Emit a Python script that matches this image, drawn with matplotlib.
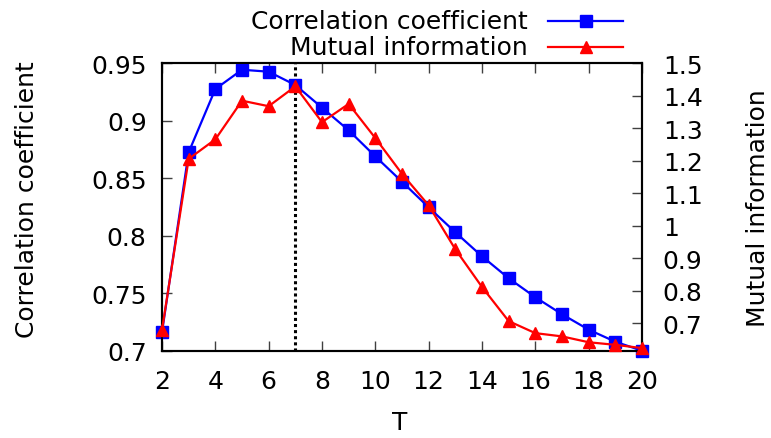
import matplotlib
matplotlib.use('Agg')
import matplotlib.pyplot as plt
from matplotlib.lines import Line2D

plt.rcParams['font.family'] = ['DejaVu Sans']

T = list(range(2, 21))
corr = [0.716, 0.8726, 0.9276, 0.9444, 0.9427, 0.9311, 0.9114, 0.8917, 0.869, 0.847,
        0.8247, 0.803, 0.7821, 0.763, 0.7465, 0.7317, 0.7183, 0.7078, 0.700]
mi = [0.68, 1.206, 1.266, 1.385, 1.368, 1.429, 1.319, 1.375, 1.27, 1.16,
      1.063, 0.928, 0.812, 0.707, 0.670, 0.660, 0.642, 0.634, 0.624]
best_T = 7

fs = 18
fig = plt.figure(figsize=(7.71, 4.39), dpi=100)
ax1 = fig.add_axes([162 / 771, 1 - 351.7 / 439, 480 / 771, 287.4 / 439])
ax2 = ax1.twinx()

ax1.plot(T, corr, color='#0000ff', lw=1.6, marker='s', ms=8, zorder=3, clip_on=False)
ax2.plot(T, mi, color='#ff0000', lw=1.6, marker='^', ms=9, zorder=3, clip_on=False)
ax1.axvline(best_T, color='black', lw=2.2, ls=(0, (1, 1)), zorder=1)

ax1.set_xlim(2, 20)
ax1.set_ylim(0.7, 0.95)
ax2.set_ylim(0.616, 1.5)
ax1.set_xticks(range(2, 21, 2))
ax1.set_yticks([0.7, 0.75, 0.8, 0.85, 0.9, 0.95])
ax1.set_yticklabels(['0.7', '0.75', '0.8', '0.85', '0.9', '0.95'])
ax2.set_yticks([0.7, 0.8, 0.9, 1.0, 1.1, 1.2, 1.3, 1.4, 1.5])
ax2.set_yticklabels(['0.7', '0.8', '0.9', '1', '1.1', '1.2', '1.3', '1.4', '1.5'])

ax1.tick_params(axis='x', direction='in', length=7, width=1, color='#404040',
                labelsize=fs, pad=13, top=True)
ax1.tick_params(axis='y', direction='in', length=7, width=1, color='#404040',
                labelsize=fs, pad=11, right=False)
ax2.tick_params(axis='y', direction='in', length=7, width=1, color='#404040',
                labelsize=fs, pad=15)
for a in (ax1, ax2):
    for s in a.spines.values():
        s.set_linewidth(1.5)

fig.text(400 / 771, 1 - 423 / 439, 'T', fontsize=fs, ha='center', va='center')
fig.text(27 / 771, 1 - 200 / 439, 'Correlation coefficient', rotation=90,
         fontsize=fs, ha='center', va='center')
fig.text(758 / 771, 1 - 208 / 439, 'Mutual information', rotation=90,
         fontsize=fs, ha='center', va='center')

# legend in gnuplot style: text right-aligned, sample to the right
for yy, label, c, m in [(22, 'Correlation coefficient', '#0000ff', 's'),
                        (48, 'Mutual information', '#ff0000', '^')]:
    fig.text(528 / 771, 1 - yy / 439, label, fontsize=fs, ha='right', va='center')
    fig.add_artist(Line2D([548 / 771, 623 / 771], [1 - yy / 439] * 2,
                          transform=fig.transFigure, color=c, lw=1.6))
    fig.add_artist(Line2D([585.5 / 771], [1 - yy / 439], transform=fig.transFigure,
                          color=c, marker=m, ms=8 if m == 's' else 9, lw=0))

fig.savefig('out.png', dpi=100)
